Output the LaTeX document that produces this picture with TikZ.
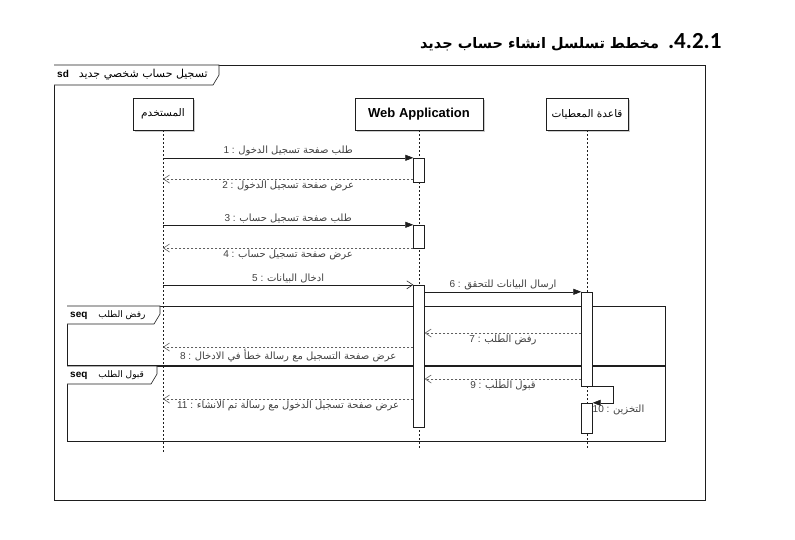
\documentclass[tikz,border=0pt]{standalone}
\usepackage{fontspec}
\setmainfont{Liberation Sans}
\newfontfamily\arfont[Script=Arabic]{DejaVu Sans}
\newfontfamily\numfont{Carlito}
\TeXXeTstate=1
\usetikzlibrary{arrows.meta,positioning,calc,shadows}
\definecolor{sqline}{RGB}{30,30,30}
\definecolor{sqgray}{RGB}{95,95,95}
\newcommand{\ar}[1]{{\arfont\beginR #1\endR}}

\begin{document}
\begin{tikzpicture}[x=1pt,y=-1pt,
  lifehead/.style={draw=sqline,fill=white,minimum height=32pt,inner sep=2pt,font=\fontsize{10.5}{12}\selectfont,drop shadow={shadow xshift=2pt,shadow yshift=-2pt,fill=black!20,opacity=1}},
  actbar/.style={draw=sqline,fill=white,minimum width=11pt,inner sep=0pt},
  lifeline/.style={sqline,dash pattern=on 2pt off 2pt,line width=0.5pt},
  callmsg/.style={sqline,line width=0.6pt,-{Triangle[length=8pt,width=6pt]}},
  asyncmsg/.style={sqline,line width=0.6pt,-{Straight Barb[length=6pt,width=8pt]}},
  replymsg/.style={sqgray,line width=0.6pt,dash pattern=on 2pt off 2pt,-{Straight Barb[length=6pt,width=8pt]}},
  msglbl/.style={font=\fontsize{10}{11}\selectfont,inner sep=1.5pt,text=black!75},
  frametab/.style={draw=sqline,line width=0.6pt,fill=white},
  tablbl/.style={anchor=west,font=\fontsize{10}{12}\selectfont,inner sep=1pt}
]
% canvas
\fill[white] (0,0) rectangle (795,539);

% title
\node[anchor=base east,font=\bfseries] (title) at (725,48) {{\fontsize{14.5}{18}\selectfont\ar{مخطط تسلسل انشاء حساب جديد}}\hspace{9pt}{\fontsize{23}{26}\selectfont\numfont .4.2.1}};

% sd frame
\draw[sqline,line width=0.6pt] (54,65) rectangle (705,500);
\draw[frametab] (54,65) -- (219,65) -- (219,75) -- (213,85) -- (54,85);
\node[tablbl] (sdlbl) at (56,75) {\textbf{sd}\hspace{10pt}{\fontsize{11}{12}\selectfont\ar{تسجيل حساب شخصي جديد}}};

% lifelines
\node[lifehead,minimum width=60pt] (usr) at (163,114) {\ar{المستخدم}};
\node[lifehead,minimum width=128pt,font=\fontsize{13}{15}\selectfont\bfseries] (web) at (419,114) {Web Application};
\node[lifehead,minimum width=82pt] (db) at (587,114) {\ar{قاعدة المعطيات}};
\coordinate (usrend) at (usr |- 0,452);
\coordinate (webend) at (web |- 0,450);
\coordinate (dbend) at (db |- 0,450);
\draw[lifeline] (usr) -- (usrend);
\draw[lifeline] (web) -- (webend);
\draw[lifeline] (db) -- (dbend);

% combined fragments
\draw[sqline,line width=0.6pt] (67,306) rectangle (665,365);
\draw[frametab] (67,306) -- (160,306) -- (160,314) -- (154,324) -- (67,324);
\node[tablbl] (seqno) at (69,315) {\textbf{seq}\hspace{11pt}{\fontsize{9}{10}\selectfont\ar{رفض الطلب}}};
\draw[sqline,line width=0.6pt] (67,366) rectangle (665,441);
\draw[frametab] (67,366) -- (157,366) -- (157,374) -- (151,384) -- (67,384);
\node[tablbl] (seqyes) at (69,375) {\textbf{seq}\hspace{11pt}{\fontsize{9}{10}\selectfont\ar{قبول الطلب}}};

% activations
\node[actbar,minimum height=24pt] (a1) at (419,170) {};
\node[actbar,minimum height=23pt] (a2) at (419,236.5) {};
\node[actbar,minimum height=142pt] (a3) at (419,356) {};
\node[actbar,minimum height=94pt] (d1) at (587,339) {};
\node[actbar,minimum height=30pt] (d2) at (587,418) {};

% messages
\draw[callmsg] (usr |- a1.north) -- node[msglbl,above] {1 : \ar{طلب صفحة تسجيل الدخول}} (a1.north west);
\draw[replymsg] (a1.west |- 0,179) -- node[msglbl,below] {2 : \ar{عرض صفحة تسجيل الدخول}} (usr |- 0,179);
\draw[callmsg] (usr |- a2.north) -- node[msglbl,above] {3 : \ar{طلب صفحة تسجيل حساب}} (a2.north west);
\draw[replymsg] (a2.west |- 0,248) -- node[msglbl,below] {4 : \ar{عرض صفحة تسجيل حساب}} (usr |- 0,248);
\draw[asyncmsg] (usr |- a3.north) -- node[msglbl,above] {5 : \ar{ادخال البيانات}} (a3.north west);
\draw[callmsg] (a3.east |- d1.north) -- node[msglbl,above] {6 : \ar{ارسال البيانات للتحقق}} (d1.north west);
\draw[replymsg] (d1.west |- 0,333) -- node[msglbl,below] {7 : \ar{رفض الطلب}} (a3.east |- 0,333);
\draw[replymsg] (a3.west |- 0,347) -- node[msglbl,below] {8 : \ar{عرض صفحة التسجيل مع رسالة خطأ في الادخال}} (usr |- 0,347);
\draw[replymsg] (d1.west |- 0,379) -- node[msglbl,below] {9 : \ar{قبول الطلب}} (a3.east |- 0,379);
\draw[callmsg] (d1.south east) -- +(21,0) |- (d2.north east);
\node[msglbl,anchor=west] (store) at (591,410) {10 : \ar{التخزين}};
\draw[replymsg] (a3.west |- 0,399) -- node[msglbl,below] {11 : \ar{عرض صفحة تسجيل الدخول مع رسالة تم الانشاء}} (usr |- 0,399);
\end{tikzpicture}
\end{document}
